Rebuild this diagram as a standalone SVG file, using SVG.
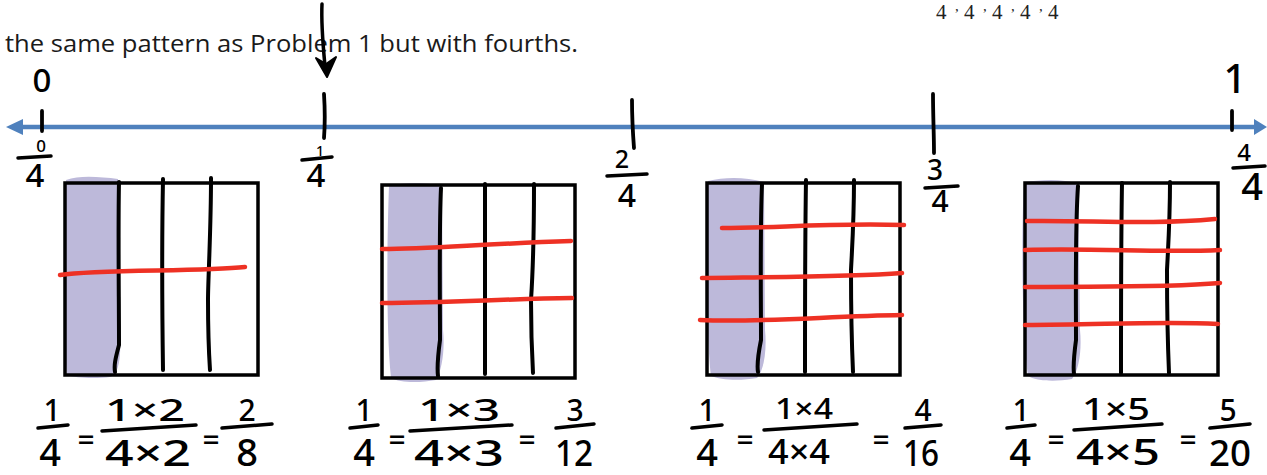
<svg xmlns="http://www.w3.org/2000/svg" width="1267" height="475" viewBox="0 0 1267 475">
<style>
.txt{font-family:"Open Sans",Lato,"Liberation Sans",sans-serif;fill:#1a1a1a}
.ser{font-family:"Liberation Serif","DejaVu Serif",serif;fill:#222}
.hw{font-family:"Noto Sans","DejaVu Sans",sans-serif;font-weight:500;fill:#000;text-anchor:middle}
.bar{stroke:#000;stroke-width:3.5;stroke-linecap:round;fill:none}
.tick{stroke:#000;stroke-width:3.8;stroke-linecap:round;fill:none}
.box{fill:none;stroke:#000;stroke-width:3.5}
.vl{stroke:#000;stroke-width:4;fill:none;stroke-linecap:round}
.red{stroke:#EE3124;stroke-width:4.5;fill:none;stroke-linecap:round}
.shade{fill:#BDB9DA}
.nl{stroke:#4F81BD;stroke-width:4.5;fill:none}
</style>
<rect width="1267" height="475" fill="#fff"/>
<g id="top-text">
<text class="txt" x="5" y="52" font-size="23" textLength="573" lengthAdjust="spacingAndGlyphs">the same pattern as Problem 1 but with fourths.</text>
<text class="ser" x="936" y="19" font-size="21">4</text>
<text class="ser" x="964" y="19" font-size="21">4</text>
<text class="ser" x="992" y="19" font-size="21">4</text>
<text class="ser" x="1020" y="19" font-size="21">4</text>
<text class="ser" x="1048" y="19" font-size="21">4</text>
<text class="ser" x="955" y="11" font-size="15">,</text>
<text class="ser" x="983" y="11" font-size="15">,</text>
<text class="ser" x="1011" y="11" font-size="15">,</text>
<text class="ser" x="1039" y="11" font-size="15">,</text>
</g>
<g id="connectors">
<line class="nl" x1="18" y1="127" x2="1256" y2="127"/>
<polygon points="6,127 23,119 23,135" fill="#4F81BD"/>
<polygon points="1267,127 1254,119 1254,135" fill="#4F81BD"/>
<path d="M322 4 C321 25 323 45 325 66" stroke="#000" stroke-width="3.5" fill="none" stroke-linecap="round"/>
<path d="M316 58 L326 64 L336 57 L327 77 Z" fill="#000" stroke="#000" stroke-width="2" stroke-linejoin="round"/>
</g>
<g id="tick-0">
<line class="tick" x1="42" y1="111" x2="42" y2="131"/>
<text class="hw" x="42" y="92" font-size="33">0</text>
<text class="hw" x="41" y="152" font-size="17">0</text>
<line class="bar" x1="18" y1="158" x2="51" y2="156"/>
<text class="hw" x="35" y="187" font-size="33">4</text>
</g>
<g id="tick-1-4">
<path class="tick" d="M324 94 C325 110 325 125 324 138"/>
<text class="hw" x="320" y="156" font-size="14">1</text>
<line class="bar" x1="302" y1="160" x2="332" y2="157"/>
<text class="hw" x="316" y="187" font-size="33">4</text>
</g>
<g id="tick-2-4">
<path class="tick" d="M632 100 C632 115 633 135 634 148"/>
<text class="hw" x="622" y="168" font-size="25">2</text>
<line class="bar" x1="607" y1="176" x2="647" y2="174"/>
<text class="hw" x="627" y="207" font-size="32">4</text>
</g>
<g id="tick-3-4">
<path class="tick" d="M933 94 C933 115 934 135 934 153"/>
<text class="hw" x="935" y="180" font-size="28">3</text>
<line class="bar" x1="925" y1="188" x2="958" y2="186"/>
<text class="hw" x="940" y="212" font-size="30">4</text>
</g>
<g id="tick-4-4">
<line class="tick" x1="1232" y1="111" x2="1232" y2="130"/>
<text class="hw" x="1235" y="93" font-size="40">1</text>
<text class="hw" x="1244" y="161" font-size="24">4</text>
<line class="bar" x1="1233" y1="168" x2="1265" y2="166"/>
<text class="hw" x="1252" y="200" font-size="38">4</text>
</g>
<g id="box-1">
<path class="shade" d="M66 180 C80 175 100 177 118 179 L120 340 C121 360 118 375 110 377 C95 379 75 378 67 375 C63 330 63 230 66 180 Z"/>
<rect class="box" x="65" y="183" width="193" height="192"/>
<path class="vl" d="M119 182 C118 230 119 300 119 345 C115 360 114 365 115 372"/>
<path class="vl" d="M163 179 C162 230 162 300 163 370"/>
<path class="vl" d="M211 178 C211 230 208 280 208 300 C208 330 209 355 210 370"/>
<path class="red" d="M60 275 C100 269 200 272 245 267"/>
</g>
<g id="box-2">
<path class="shade" d="M389 186 C405 182 425 182 442 186 L443 330 C445 350 442 370 436 380 C420 383 400 383 391 378 C386 330 387 240 389 186 Z"/>
<rect class="box" x="382" y="185" width="193" height="193"/>
<path class="vl" d="M441 188 C439 230 440 300 440 340 C438 355 437 368 438 376"/>
<path class="vl" d="M485 184 C485 240 485 310 485 374"/>
<path class="vl" d="M534 184 C534 230 533 270 531 300 C531 330 532 355 533 373"/>
<path class="red" d="M382 249 C430 249 480 244 571 241"/>
<path class="red" d="M382 303 C450 303 500 299 572 298"/>
</g>
<g id="box-3">
<path class="shade" d="M708 181 C725 177 745 177 764 182 L765 330 C767 350 764 370 757 378 C740 381 720 380 711 376 C706 330 706 240 708 181 Z"/>
<rect class="box" x="707" y="183" width="193" height="192"/>
<path class="vl" d="M762 184 C760 230 761 300 761 340 C758 355 757 366 758 372"/>
<path class="vl" d="M806 180 C805 240 805 310 805 372"/>
<path class="vl" d="M854 180 C854 220 852 250 851 270 C851 320 852 350 853 372"/>
<path class="red" d="M722 228 C780 228 820 223 904 225"/>
<path class="red" d="M702 278 C780 277 850 277 902 273"/>
<path class="red" d="M700 320 C760 323 830 316 902 315"/>
</g>
<g id="box-4">
<path class="shade" d="M1024 182 C1040 180 1062 178 1078 184 L1080 330 C1082 350 1079 370 1072 379 C1055 382 1035 381 1028 376 C1022 330 1021 240 1024 182 Z"/>
<rect class="box" x="1025" y="183" width="193" height="192"/>
<path class="vl" d="M1078 186 C1075 230 1076 300 1076 340 C1074 355 1073 366 1074 374"/>
<path class="vl" d="M1122 183 C1121 240 1121 310 1121 373"/>
<path class="vl" d="M1170 182 C1170 220 1168 250 1167 270 C1167 320 1168 350 1169 373"/>
<path class="red" d="M1027 221 C1090 220 1150 225 1215 219"/>
<path class="red" d="M1025 250 C1100 248 1160 253 1220 250"/>
<path class="red" d="M1025 287 C1100 286 1160 288 1220 283"/>
<path class="red" d="M1025 325 C1100 325 1160 321 1218 324"/>
</g>
<g id="eq-1">
<text class="hw" x="52" y="421" font-size="30">1</text>
<line class="bar" x1="38" y1="428" x2="68" y2="425"/>
<text class="hw" x="50" y="466" font-size="38">4</text>
<text class="hw" x="86" y="451" font-size="30">=</text>
<text class="hw" x="145" y="421" font-size="30" textLength="80" lengthAdjust="spacingAndGlyphs">1×2</text>
<line class="bar" x1="102" y1="431" x2="196" y2="425"/>
<text class="hw" x="148" y="466" font-size="36" textLength="86" lengthAdjust="spacingAndGlyphs">4×2</text>
<text class="hw" x="211" y="451" font-size="30">=</text>
<text class="hw" x="247" y="421" font-size="30">2</text>
<line class="bar" x1="222" y1="428" x2="272" y2="424"/>
<text class="hw" x="247" y="466" font-size="38">8</text>
</g>
<g id="eq-2">
<text class="hw" x="364" y="421" font-size="30">1</text>
<line class="bar" x1="350" y1="428" x2="378" y2="425"/>
<text class="hw" x="364" y="466" font-size="38">4</text>
<text class="hw" x="397" y="451" font-size="30">=</text>
<text class="hw" x="459" y="421" font-size="30" textLength="82" lengthAdjust="spacingAndGlyphs">1×3</text>
<line class="bar" x1="410" y1="431" x2="512" y2="425"/>
<text class="hw" x="459" y="466" font-size="36" textLength="90" lengthAdjust="spacingAndGlyphs">4×3</text>
<text class="hw" x="527" y="451" font-size="30">=</text>
<text class="hw" x="575" y="421" font-size="30">3</text>
<line class="bar" x1="556" y1="428" x2="594" y2="424"/>
<text class="hw" x="574" y="466" font-size="36" textLength="38" lengthAdjust="spacingAndGlyphs">12</text>
</g>
<g id="eq-3">
<text class="hw" x="707" y="421" font-size="30">1</text>
<line class="bar" x1="692" y1="428" x2="722" y2="425"/>
<text class="hw" x="707" y="466" font-size="38">4</text>
<text class="hw" x="745" y="451" font-size="30">=</text>
<text class="hw" x="804" y="419" font-size="28" textLength="58" lengthAdjust="spacingAndGlyphs">1×4</text>
<line class="bar" x1="764" y1="430" x2="857" y2="424"/>
<text class="hw" x="799" y="464" font-size="34" textLength="62" lengthAdjust="spacingAndGlyphs">4×4</text>
<text class="hw" x="881" y="451" font-size="30">=</text>
<text class="hw" x="923" y="421" font-size="30">4</text>
<line class="bar" x1="905" y1="428" x2="941" y2="425"/>
<text class="hw" x="921" y="466" font-size="36" textLength="36" lengthAdjust="spacingAndGlyphs">16</text>
</g>
<g id="eq-4">
<text class="hw" x="1021" y="421" font-size="30">1</text>
<line class="bar" x1="1007" y1="428" x2="1035" y2="425"/>
<text class="hw" x="1020" y="466" font-size="38">4</text>
<text class="hw" x="1056" y="451" font-size="30">=</text>
<text class="hw" x="1116" y="420" font-size="30" textLength="68" lengthAdjust="spacingAndGlyphs">1×5</text>
<line class="bar" x1="1074" y1="430" x2="1162" y2="424"/>
<text class="hw" x="1118" y="465" font-size="36" textLength="84" lengthAdjust="spacingAndGlyphs">4×5</text>
<text class="hw" x="1188" y="451" font-size="30">=</text>
<text class="hw" x="1228" y="421" font-size="30">5</text>
<line class="bar" x1="1210" y1="428" x2="1250" y2="424"/>
<text class="hw" x="1230" y="466" font-size="36" textLength="42" lengthAdjust="spacingAndGlyphs">20</text>
</g>
</svg>
